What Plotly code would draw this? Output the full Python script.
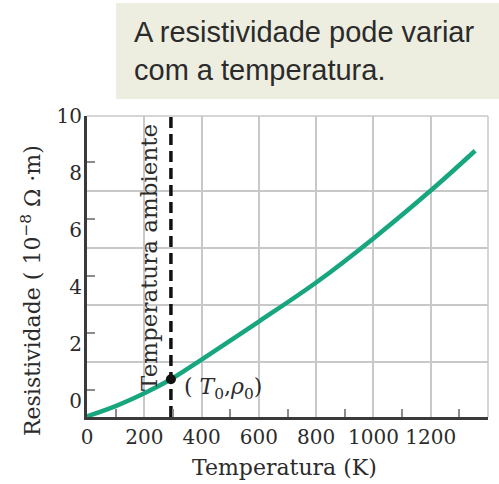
import plotly.graph_objects as go

# Resistivity of copper versus temperature
TEMP_K = [0, 100, 200, 293, 400, 600, 800, 1000, 1200, 1355]
RESISTIVITY = [-0.55, -0.19, 0.26, 0.75, 1.44, 2.78, 4.15, 5.70, 7.38, 8.78]

# Room-temperature reference point (T0, rho0)
T0 = 293
RHO0 = 0.75

# Axis ticks
X_RANGE = [0, 1400]
X_TICKS = [0, 200, 400, 600, 800, 1000, 1200]
X_MINOR = [100, 300, 500, 700, 900, 1100, 1300]
Y_RANGE = [-0.575, 10.0]
Y_TICKS = [0, 2, 4, 6, 8, 10]
Y_GRID = [1.375, 3.375, 5.375, 7.375]
Y_MINOR = [0.375, 2.375, 4.375, 6.375, 8.375]

SERIF = "DejaVu Serif"
SANS = "Liberation Sans"
GRID = "#c8c8c8"
AXIS = "#3a3a3a"
TEXT = "#2b2b2b"

# plot-area geometry (pixels)
W, H = 499, 484
ML, MR, MT, MB = 87, 11, 116, 67
PW, PH = W - ML - MR, H - MT - MB


def px(xp):
    return (xp - ML) / PW


def py(yp):
    return (H - MB - yp) / PH


fig = go.Figure()

fig.add_trace(go.Scatter(
    x=TEMP_K, y=RESISTIVITY, mode="lines",
    line=dict(color="#17a67e", width=4.5, shape="spline", smoothing=1.0),
    xaxis="x", yaxis="y", hoverinfo="skip", showlegend=False,
))

fig.add_trace(go.Scatter(
    x=[T0, T0], y=Y_RANGE, mode="lines",
    line=dict(color="#111111", width=3.5, dash="11px,6px"),
    xaxis="x", yaxis="y2", hoverinfo="skip", showlegend=False,
))

fig.add_trace(go.Scatter(
    x=[T0], y=[RHO0], mode="markers",
    marker=dict(color="#111111", size=10),
    xaxis="x", yaxis="y2", hoverinfo="skip", showlegend=False,
))

# top and right frame of the plot area
fig.add_shape(type="line", xref="paper", yref="paper", x0=0, x1=1, y0=1, y1=1,
              line=dict(color=GRID, width=1.5))
fig.add_shape(type="line", xref="paper", yref="paper", x0=1, x1=1, y0=0, y1=1,
              line=dict(color=GRID, width=1.5))

# caption box
fig.add_shape(type="rect", xref="paper", yref="paper",
              x0=px(116), x1=px(W + 2), y0=py(99), y1=py(3),
              fillcolor="#edeee0", line=dict(width=0), layer="below")
fig.add_annotation(
    xref="paper", yref="paper", x=px(132), y=py(51),
    xanchor="left", yanchor="middle", align="left", showarrow=False,
    text="A resistividade pode variar<br>com a temperatura.",
    font=dict(family=SANS, size=29, color=TEXT),
)

# labels
fig.add_annotation(
    xref="x", yref="paper", x=T0, y=py(257), xshift=-22,
    xanchor="center", yanchor="middle",
    text="Temperatura ambiente", textangle=-90, showarrow=False,
    font=dict(family=SERIF, size=23, color=TEXT),
)
fig.add_annotation(
    xref="x", yref="y2", x=T0, y=RHO0, xshift=11, yshift=-9,
    xanchor="left", yanchor="middle", showarrow=False,
    text="( <i>T</i><sub>0</sub>,<i>ρ</i><sub>0</sub>)",
    font=dict(family=SERIF, size=22, color=TEXT),
)
fig.add_annotation(
    xref="paper", yref="paper", x=px(284), y=py(467),
    xanchor="center", yanchor="middle",
    text="Temperatura (K)", showarrow=False,
    font=dict(family=SERIF, size=22, color=TEXT),
)
fig.add_annotation(
    xref="paper", yref="paper", x=px(31), y=py(291),
    xanchor="center", yanchor="middle",
    text="Resistividade ( 10<sup>−8</sup> Ω ·m)", textangle=-90, showarrow=False,
    font=dict(family=SERIF, size=22, color=TEXT),
)

fig.update_layout(
    width=W, height=H,
    margin=dict(l=ML, r=MR, t=MT, b=MB, pad=0),
    paper_bgcolor="white", plot_bgcolor="white",
    showlegend=False,
    xaxis=dict(
        range=X_RANGE, tickmode="array", tickvals=X_TICKS,
        showgrid=True, gridcolor=GRID, gridwidth=1.5,
        ticks="", showline=True, linecolor=AXIS, linewidth=2.5,
        zeroline=False,
        minor=dict(tickmode="array", tickvals=X_MINOR, ticks="inside",
                   ticklen=8, tickwidth=1.5, tickcolor="#8c8c8c", showgrid=False),
        tickfont=dict(family=SERIF, size=20, color=TEXT),
        fixedrange=True,
    ),
    yaxis=dict(
        range=Y_RANGE, tickmode="array", tickvals=Y_GRID,
        showticklabels=False, ticks="",
        showgrid=True, gridcolor=GRID, gridwidth=1.5,
        showline=True, linecolor=AXIS, linewidth=2.5, zeroline=False,
        minor=dict(tickmode="array", tickvals=Y_MINOR, ticks="inside",
                   ticklen=8, tickwidth=1.5, tickcolor="#8c8c8c", showgrid=False),
        fixedrange=True,
    ),
    yaxis2=dict(
        range=Y_RANGE, overlaying="y", side="left",
        tickmode="array", tickvals=Y_TICKS,
        showgrid=False, ticks="", showline=False, zeroline=False,
        ticklabelstandoff=4,
        tickfont=dict(family=SERIF, size=20, color=TEXT),
        fixedrange=True,
    ),
)

fig.write_html("out.html")
